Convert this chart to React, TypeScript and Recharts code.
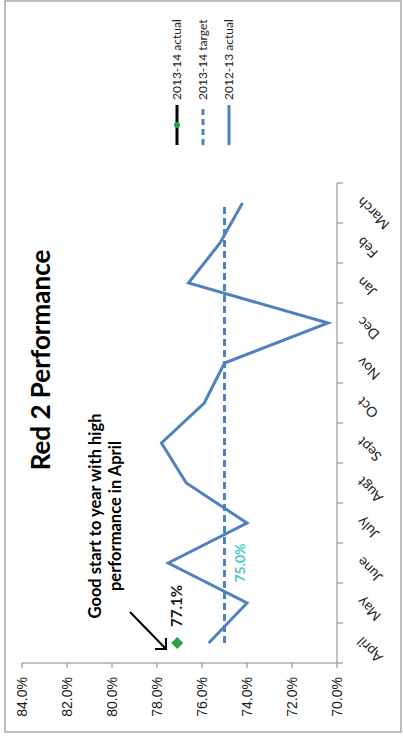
import React from 'react';
import { LineChart, Line, XAxis, YAxis, LabelList } from 'recharts';

// Red 2 performance by month, in percent
const months = ['April', 'May', 'June', 'July', 'Augt', 'Sept', 'Oct', 'Nov', 'Dec', 'Jan', 'Feb', 'March'];
const actual1213 = [75.7, 74.0, 77.5, 74.0, 76.7, 77.8, 75.9, 75.0, 70.4, 76.6, 75.2, 74.2];
const target1314 = [75.0, 75.0, 75.0, 75.0, 75.0, 75.0, 75.0, 75.0, 75.0, 75.0, 75.0, 75.0];
const actual1314 = [77.1, null, null, null, null, null, null, null, null, null, null, null];
const valueTicks = [70, 72, 74, 76, 78, 80, 82, 84];

const W = 736;
const H = 403;
const BLUE = '#4F81BD';
const GREEN = '#2E9F4B';
const TEAL = '#4BC6C6';
const AXIS = '#868686';
const HUMANIST = 'Lato, "Open Sans", sans-serif';

const data = months.map((m, i) => ({
  month: m,
  a1213: actual1213[i],
  t1314: target1314[i],
  a1314: actual1314[i],
}));

// category labels sit between tick marks, tilted like the sheet's axis
const MonthTick = (props: any) => {
  const { x, y, payload, index } = props;
  const half = 20;
  return (
    <g>
      <line x1={x - half} y1={y} x2={x - half} y2={y + 6} stroke={AXIS} strokeWidth={1} />
      {index === months.length - 1 && (
        <line x1={x + half} y1={y} x2={x + half} y2={y + 6} stroke={AXIS} strokeWidth={1} />
      )}
      <text
        transform={`translate(${x + 7},${y + 26}) rotate(-45)`}
        textAnchor="end"
        fontFamily={HUMANIST}
        fontSize={14}
        fill="#222"
      >
        {payload.value}
      </text>
    </g>
  );
};

const Diamond = (props: any) => {
  const { cx, cy, value } = props;
  if (value == null || cx == null || cy == null) return <g />;
  const r = 6;
  return (
    <polygon
      points={`${cx},${cy - r} ${cx + r},${cy} ${cx},${cy + r} ${cx - r},${cy}`}
      fill={GREEN}
    />
  );
};

const ActualLabel = (props: any) => {
  const { x, y, value } = props;
  if (value == null) return null;
  return (
    <text x={x + 16} y={y + 5} fontFamily={HUMANIST} fontWeight={700} fontSize={15} fill="#111">
      {value.toFixed(1)}%
    </text>
  );
};

const TargetLabel = (props: any) => {
  const { x, y, value, index } = props;
  if (index !== 2) return null;
  return (
    <text x={x} y={y + 20} textAnchor="middle" fontFamily={HUMANIST} fontWeight={700} fontSize={14} fill={TEAL}>
      {value.toFixed(1)}%
    </text>
  );
};

const legendItems = [
  { name: '2013-14 actual', color: '#000', dash: undefined as string | undefined, dot: true },
  { name: '2013-14 target', color: BLUE, dash: '6 4', dot: false },
  { name: '2012-13 actual', color: BLUE, dash: undefined as string | undefined, dot: false },
];

const Legend = () => (
  <svg width={150} height={90} style={{ position: 'absolute', left: 588, top: 160 }}>
    {legendItems.map((it, i) => {
      const y = 17 + i * 26;
      return (
        <g key={it.name}>
          <line x1={3} y1={y} x2={43} y2={y} stroke={it.color} strokeWidth={3} strokeDasharray={it.dash} />
          {it.dot && <circle cx={23} cy={y} r={3} fill={GREEN} />}
          <text x={48} y={y + 4} fontFamily={HUMANIST} fontSize={12} fill="#222">
            {it.name}
          </text>
        </g>
      );
    })}
  </svg>
);

export default function App() {
  return (
    <div style={{ position: 'absolute', left: 0, top: 0, width: H, height: W, overflow: 'hidden', background: '#fff' }}>
      <div
        style={{
          position: 'absolute',
          left: 0,
          top: 0,
          width: W,
          height: H,
          transformOrigin: '0 0',
          transform: `translateY(${W}px) rotate(-90deg)`,
        }}
      >
        <LineChart width={W} height={H} data={data} margin={{ top: 22, right: 183, bottom: 26, left: 0 }}>
          <XAxis
            dataKey="month"
            height={40}
            padding={{ left: 20, right: 20 }}
            tickLine={false}
            tickSize={0}
            tickMargin={0}
            interval={0}
            axisLine={{ stroke: AXIS }}
            tick={<MonthTick />}
          />
          <YAxis
            width={73}
            domain={[70, 84]}
            ticks={valueTicks}
            tickSize={5}
            tickMargin={9}
            axisLine={{ stroke: AXIS }}
            tickLine={{ stroke: AXIS }}
            tickFormatter={(v: number) => `${v.toFixed(1)}%`}
            tick={{ fontFamily: '"Liberation Sans", Arial, sans-serif', fontSize: 14, fill: '#1a1a1a' }}
          />
          <Line
            dataKey="a1213"
            stroke={BLUE}
            strokeWidth={3}
            dot={false}
            isAnimationActive={false}
          />
          <Line
            dataKey="t1314"
            stroke={BLUE}
            strokeWidth={3}
            strokeDasharray="7 4"
            dot={false}
            isAnimationActive={false}
          >
            <LabelList dataKey="t1314" content={<TargetLabel />} />
          </Line>
          <Line
            dataKey="a1314"
            stroke="#000"
            strokeWidth={3}
            dot={<Diamond />}
            isAnimationActive={false}
          >
            <LabelList dataKey="a1314" content={<ActualLabel />} />
          </Line>
        </LineChart>

        <svg width={W} height={H} style={{ position: 'absolute', left: 0, top: 0, pointerEvents: 'none' }}>
          <rect x={4} y={5} width={731} height={396} fill="none" stroke="#A6A6A6" strokeWidth={1.5} />
          <line x1={124} y1={130} x2={87} y2={166} stroke="#000" strokeWidth={2} />
          <polyline points="87,155 87,166 98,166" fill="none" stroke="#000" strokeWidth={2} />
        </svg>

        <div
          style={{
            position: 'absolute',
            left: 226,
            top: 25,
            width: 300,
            textAlign: 'center',
            fontFamily: HUMANIST,
            fontWeight: 700,
            fontSize: 26,
            lineHeight: '30px',
            color: '#000',
          }}
        >
          Red 2 Performance
        </div>

        <div
          style={{
            position: 'absolute',
            left: 100,
            top: 85,
            width: 240,
            textAlign: 'center',
            fontFamily: HUMANIST,
            fontWeight: 700,
            fontSize: 16.5,
            lineHeight: '20px',
            color: '#000',
          }}
        >
          Good start to year with high
          <br />
          performance in April
        </div>

        <Legend />
      </div>
    </div>
  );
}
